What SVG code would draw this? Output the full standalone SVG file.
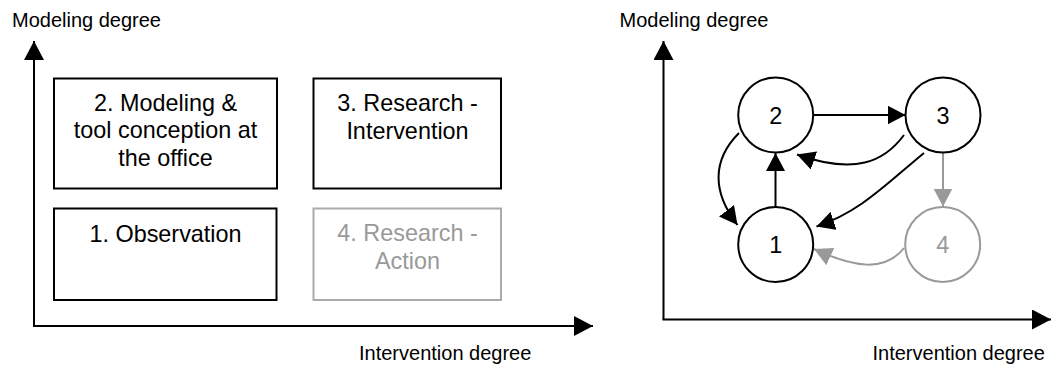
<svg xmlns="http://www.w3.org/2000/svg" width="1053" height="365" viewBox="0 0 1053 365">
<style>
  text { font-family: "Liberation Sans", Arial, sans-serif; fill: #000; }
  .lbl { font-size: 20px; }
  .bx { font-size: 23.4px; text-anchor: middle; }
  .num { font-size: 23.4px; text-anchor: middle; }
  .grey { fill: #999; }
  .box { fill: none; stroke: #000; stroke-width: 2; }
  .box.g { stroke: #aaa; }
  .axis { fill: none; stroke: #000; stroke-width: 2; }
  .node { fill: #fff; stroke: #000; stroke-width: 2; }
  .node.g { stroke: #999; }
  .conn { fill: none; stroke: #000; stroke-width: 2; }
  .conn.g { stroke: #999; }
</style>
<defs>
  <marker id="ax" markerUnits="userSpaceOnUse" markerWidth="20" markerHeight="20" refX="19" refY="10" orient="auto" viewBox="0 0 20 20">
    <path d="M0,0 L19,10 L0,20 z" fill="#000"/>
  </marker>
  <marker id="ah" markerUnits="userSpaceOnUse" markerWidth="19" markerHeight="19" refX="18" refY="9.5" orient="auto" viewBox="0 0 19 19">
    <path d="M0,0 L18,9.5 L0,19 z" fill="#000"/>
  </marker>
  <marker id="ahg" markerUnits="userSpaceOnUse" markerWidth="19" markerHeight="19" refX="18" refY="9.5" orient="auto" viewBox="0 0 19 19">
    <path d="M0,0 L18,9.5 L0,19 z" fill="#999"/>
  </marker>
</defs>

<g id="left-panel">
  <g id="left-axes">
    <path class="axis" d="M34,326 L34,41" marker-end="url(#ax)"/>
    <path class="axis" d="M33,326 L593,326" marker-end="url(#ax)"/>
    <text class="lbl" x="12" y="26.5">Modeling degree</text>
    <text class="lbl" x="359" y="360">Intervention degree</text>
  </g>
  <g id="box2">
    <rect class="box" x="54" y="78.5" width="223" height="110"/>
    <text class="bx" x="165.5" y="110.5">2. Modeling &amp;</text>
    <text class="bx" x="165.5" y="138">tool conception at</text>
    <text class="bx" x="165.5" y="165.5">the office</text>
  </g>
  <g id="box3">
    <rect class="box" x="313.5" y="78.5" width="187.5" height="110"/>
    <text class="bx" x="407.5" y="111">3. Research -</text>
    <text class="bx" x="407.5" y="139">Intervention</text>
  </g>
  <g id="box1">
    <rect class="box" x="54" y="208.5" width="222.5" height="91.5"/>
    <text class="bx" x="165.5" y="242">1. Observation</text>
  </g>
  <g id="box4">
    <rect class="box g" x="313.5" y="208.5" width="187.5" height="91.5"/>
    <text class="bx grey" x="407.5" y="240.5">4. Research -</text>
    <text class="bx grey" x="407.5" y="268.5">Action</text>
  </g>
</g>

<g id="right-panel">
  <g id="right-axes">
    <path class="axis" d="M663.5,319.5 L663.5,41" marker-end="url(#ax)"/>
    <path class="axis" d="M662.5,319.5 L1051,319.5" marker-end="url(#ax)"/>
    <text class="lbl" x="619.5" y="26.5">Modeling degree</text>
    <text class="lbl" x="872.5" y="360">Intervention degree</text>
  </g>
  <g id="connectors">
    <path class="conn" d="M813.2,115 L905.5,115" marker-end="url(#ah)"/>
    <path class="conn" d="M775.5,207 L775.5,153" marker-end="url(#ah)"/>
    <path class="conn" d="M739,133 C712,160 712,192 737.5,225" marker-end="url(#ah)"/>
    <path class="conn" d="M904,135 C884,162 855,175 797,154.5" marker-end="url(#ah)"/>
    <path class="conn" d="M924,153 C885,185 860,212 816.5,226.5" marker-end="url(#ah)"/>
    <path class="conn g" d="M943,152.5 L943,206.5" marker-end="url(#ahg)"/>
    <path class="conn g" d="M904,248 C885,272 855,268 814,249" marker-end="url(#ahg)"/>
  </g>
  <g id="node2">
    <circle class="node" cx="775.7" cy="115" r="37.5"/>
    <text class="num" x="775.7" y="123.5">2</text>
  </g>
  <g id="node3">
    <circle class="node" cx="943" cy="115" r="37.5"/>
    <text class="num" x="943" y="123.5">3</text>
  </g>
  <g id="node1">
    <circle class="node" cx="775.7" cy="244.5" r="37.5"/>
    <text class="num" x="775.7" y="253">1</text>
  </g>
  <g id="node4">
    <circle class="node g" cx="942.7" cy="244.5" r="37.5"/>
    <text class="num grey" x="942.7" y="253">4</text>
  </g>
</g>
</svg>
